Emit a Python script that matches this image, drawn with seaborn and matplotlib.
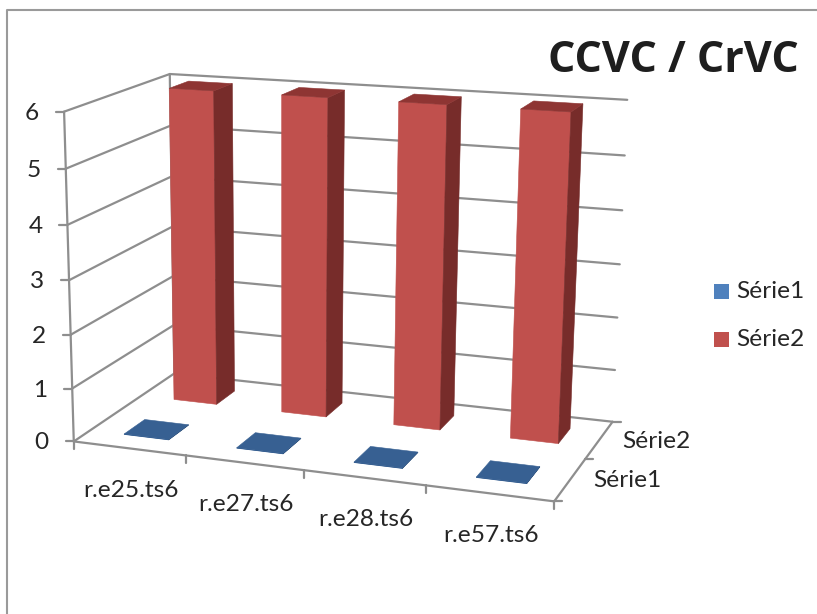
import numpy as np
import pandas as pd
import seaborn as sns
import matplotlib
matplotlib.use("Agg")
import matplotlib.pyplot as plt
from matplotlib.patches import Polygon, Rectangle

# Chart data
categories = ["r.e25.ts6", "r.e27.ts6", "r.e28.ts6", "r.e57.ts6"]
series_names = ["Série1", "Série2"]
serie1_values = [0.01, 0.01, 0.01, 0.01]
serie2_values = [6, 6, 6, 6]
value_ticks = [0, 1, 2, 3, 4, 5, 6]

# Excel-style colours: front, side and top faces of each series
FACES = {
    "Série1": ("#376092", "#2C4D75", "#376092"),
    "Série2": ("#C0504D", "#772C2A", "#8E3533"),
}
LEGEND_COLORS = ["#4F81BD", "#C0504D"]
GRID = "#8E8E8E"
TEXT = "#262626"
FONT = ["Lato", "DejaVu Sans"]
LABEL_SIZE = 17.6
TICK_LEN = 8

sns.set_theme(style="white")
plt.rcParams["font.family"] = FONT

fig = plt.figure(figsize=(8.17, 6.14), dpi=100, facecolor="white")
ax = fig.add_axes([0, 0, 1, 1])
ax.set_xlim(0, 817)
ax.set_ylim(614, 0)
ax.axis("off")

# Camera for the 3-D box: (category, depth, value) -> canvas, solved from the
# box corners on the canvas.
box_world = np.array([[0, 0, 6], [0, 0, 0], [0, 2, 6], [0, 2, 0],
                      [4, 2, 6], [4, 2, 0], [4, 0, 0]], float)
box_canvas = np.array([[63, 111.5], [75, 441], [171, 74], [173, 374],
                       [627, 100], [613, 421], [554, 502]], float)
rows, rhs = [], []
for (u, v, z), (px, py) in zip(box_world, box_canvas):
    rows.append([u, v, z, 1, 0, 0, 0, 0, -px * u, -px * v, -px * z])
    rows.append([0, 0, 0, 0, u, v, z, 1, -py * u, -py * v, -py * z])
    rhs += [px, py]
sol = np.linalg.lstsq(np.array(rows), np.array(rhs), rcond=None)[0]
CAMERA = np.append(sol, 1.0).reshape(3, 4)


def project(u, v, z):
    h = CAMERA @ np.array([u, v, z, 1.0])
    return h[0] / h[2], h[1] / h[2]


# Outer chart frame
ax.plot([7, 7, 817], [614, 10, 10], color="#9A9A9A", lw=1.5, zorder=1)

# Gridlines on the back and left walls, plus the floor outline
grid_rows = []
line_id = 0
for z in value_ticks:
    for u, v in [(0, 0), (0, 2), (4, 2)]:
        px, py = project(u, v, z)
        grid_rows.append({"x": px, "y": py, "line": line_id})
    line_id += 1
for a, b in [((0, 0, 0), (4, 0, 0)), ((4, 0, 0), (4, 2, 0)),
             ((0, 0, 0), (0, 0, 6)), ((0, 2, 0), (0, 2, 6))]:
    for p in (a, b):
        px, py = project(*p)
        grid_rows.append({"x": px, "y": py, "line": line_id})
    line_id += 1


def add_tick(anchor, dx, dy):
    global line_id
    px, py = project(*anchor)
    grid_rows.append({"x": px, "y": py, "line": line_id})
    grid_rows.append({"x": px + dx, "y": py + dy, "line": line_id})
    line_id += 1


# Ticks: left on the value axis, down on the category axis, right on the depth axis
for z in value_ticks:
    add_tick((0, 0, z), -TICK_LEN, 0)
for i in range(len(categories) + 1):
    add_tick((i, 0, 0), 0, TICK_LEN)
for j in range(len(series_names) + 1):
    add_tick((4, j, 0), TICK_LEN, 0)

sns.lineplot(data=pd.DataFrame(grid_rows), x="x", y="y", units="line",
             estimator=None, sort=False, color=GRID, lw=1.6, ax=ax, legend=False, zorder=2)
ax.set_xlim(0, 817)
ax.set_ylim(614, 0)


def draw_column(center_u, center_v, value, faces, half=0.2):
    front, side, top = faces
    u0, u1 = center_u - half, center_u + half
    v0, v1 = center_v - half, center_v + half
    quads = [
        ([(u0, v0, 0), (u1, v0, 0), (u1, v0, value), (u0, v0, value)], front),
        ([(u1, v0, 0), (u1, v1, 0), (u1, v1, value), (u1, v0, value)], side),
        ([(u0, v0, value), (u1, v0, value), (u1, v1, value), (u0, v1, value)], top),
    ]
    for corners, color in quads:
        ax.add_patch(Polygon([project(*c) for c in corners], closed=True,
                             facecolor=color, edgecolor=color, lw=0.4, zorder=3))


# Back row first so nearer columns overlap it
for depth, (name, values) in reversed(list(enumerate(zip(series_names, [serie1_values, serie2_values])))):
    for i, val in enumerate(values):
        draw_column(i + 0.51, depth + 0.5, val, FACES[name])

# Value axis labels
for z in value_ticks:
    px, py = project(0, 0, z)
    ax.text(px - 32, py + 1.5, str(z), ha="center", va="center", fontsize=LABEL_SIZE, color=TEXT)

# Category labels
for i, cat in enumerate(categories):
    px, py = project(i + 0.5, 0, 0)
    ax.text(px + 1, py + 42, cat, ha="center", va="center", fontsize=LABEL_SIZE, color=TEXT)

# Depth axis labels
for j, name in enumerate(series_names):
    px, py = project(4, j + 0.5, 0)
    ax.text(px + 23, py + 1, name, ha="left", va="center", fontsize=LABEL_SIZE, color=TEXT)

# Legend
for name, color, y in zip(series_names, LEGEND_COLORS, [291.5, 339.5]):
    ax.add_patch(Rectangle((714, y - 7.5), 15, 15, facecolor=color, edgecolor="none", zorder=3))
    ax.text(736, y + 0.5, name, ha="left", va="center", fontsize=LABEL_SIZE, color=TEXT)

# Title
ax.text(673, 61, "CCVC / CrVC", ha="center", va="center", fontsize=31,
        fontweight="bold", color="#1E1E1E", family=["Open Sans", "DejaVu Sans"])

fig.savefig("out.png", dpi=100)
